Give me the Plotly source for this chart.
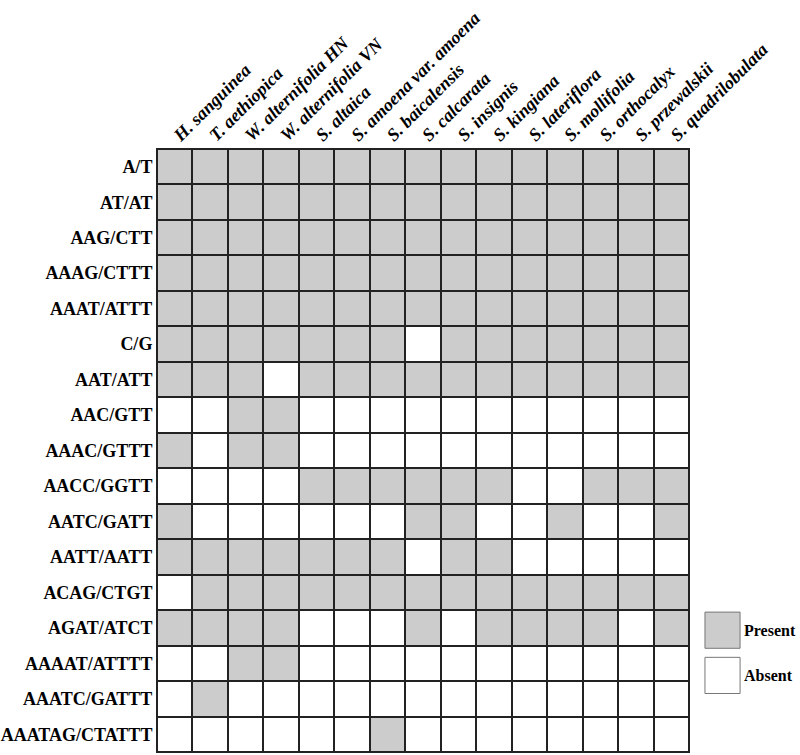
import plotly.graph_objects as go

species = [
    "H. sanguinea", "T. aethiopica", "W. alternifolia HN", "W. alternifolia VN",
    "S. altaica", "S. amoena var. amoena", "S. baicalensis", "S. calcarata",
    "S. insignis", "S. kingiana", "S. lateriflora", "S. mollifolia",
    "S. orthocalyx", "S. przewalskii", "S. quadrilobulata",
]

motifs = [
    "A/T", "AT/AT", "AAG/CTT", "AAAG/CTTT", "AAAT/ATTT", "C/G", "AAT/ATT",
    "AAC/GTT", "AAAC/GTTT", "AACC/GGTT", "AATC/GATT", "AATT/AATT",
    "ACAG/CTGT", "AGAT/ATCT", "AAAAT/ATTTT", "AAATC/GATTT", "AAATAG/CTATTT",
]

# 1 = present, 0 = absent (one row per motif, one column per species)
presence = [
    [1, 1, 1, 1, 1, 1, 1, 1, 1, 1, 1, 1, 1, 1, 1],
    [1, 1, 1, 1, 1, 1, 1, 1, 1, 1, 1, 1, 1, 1, 1],
    [1, 1, 1, 1, 1, 1, 1, 1, 1, 1, 1, 1, 1, 1, 1],
    [1, 1, 1, 1, 1, 1, 1, 1, 1, 1, 1, 1, 1, 1, 1],
    [1, 1, 1, 1, 1, 1, 1, 1, 1, 1, 1, 1, 1, 1, 1],
    [1, 1, 1, 1, 1, 1, 1, 0, 1, 1, 1, 1, 1, 1, 1],
    [1, 1, 1, 0, 1, 1, 1, 1, 1, 1, 1, 1, 1, 1, 1],
    [0, 0, 1, 1, 0, 0, 0, 0, 0, 0, 0, 0, 0, 0, 0],
    [1, 0, 1, 1, 0, 0, 0, 0, 0, 0, 0, 0, 0, 0, 0],
    [0, 0, 0, 0, 1, 1, 1, 1, 1, 1, 0, 0, 1, 1, 1],
    [1, 0, 0, 0, 0, 0, 0, 1, 1, 0, 0, 1, 0, 0, 1],
    [1, 1, 1, 1, 1, 1, 1, 0, 1, 1, 0, 0, 0, 0, 0],
    [0, 1, 1, 1, 1, 1, 1, 1, 1, 1, 1, 1, 1, 1, 1],
    [1, 1, 1, 1, 0, 0, 0, 1, 0, 1, 1, 1, 1, 0, 1],
    [0, 0, 1, 1, 0, 0, 0, 0, 0, 0, 0, 0, 0, 0, 0],
    [0, 1, 0, 0, 0, 0, 0, 0, 0, 0, 0, 0, 0, 0, 0],
    [0, 0, 0, 0, 0, 0, 1, 0, 0, 0, 0, 0, 0, 0, 0],
]

GREY = "#cccccc"
SERIF = "Liberation Serif, Times New Roman, serif"

fig = go.Figure(go.Heatmap(
    z=presence, x=species, y=motifs,
    colorscale=[[0, "white"], [1, GREY]], zmin=0, zmax=1,
    showscale=False, xgap=2, ygap=2, hoverinfo="skip",
))

# legend: two swatches + labels (paper coords, plot area spans x 0..1)
for y1, color, label in [(0.232, GREY, "Present"), (0.157, "white", "Absent")]:
    fig.add_shape(type="rect", xref="paper", yref="paper",
                  x0=1.030, x1=1.096, y0=y1 - 0.060, y1=y1,
                  fillcolor=color, line=dict(color="#777777", width=1))
    fig.add_annotation(text=label, xref="paper", yref="paper",
                       x=1.099, y=y1 - 0.030, xanchor="left", yanchor="middle",
                       showarrow=False,
                       font=dict(family=SERIF, size=16, color="black", weight="bold"))

fig.update_layout(
    width=800, height=755,
    margin=dict(l=157, r=111, t=149, b=3),
    paper_bgcolor="white", plot_bgcolor="#222222",
    xaxis=dict(side="top", tickangle=-45, ticks="", showgrid=False, automargin=False,
               ticklabelstandoff=-4,
               showline=True, mirror=True, linecolor="#222222", linewidth=1,
               tickfont=dict(family=SERIF, size=18, color="black",
                             weight="bold", style="italic")),
    yaxis=dict(autorange="reversed", ticks="", showgrid=False, automargin=False,
               showline=True, mirror=True, linecolor="#222222", linewidth=1,
               tickfont=dict(family=SERIF, size=18, color="black", weight="bold")),
)

# drop the browser's default 8px body margin so the figure fills the window
fig.write_html("out.html", config={"displayModeBar": False},
               post_script="document.body.style.margin = '0';")
